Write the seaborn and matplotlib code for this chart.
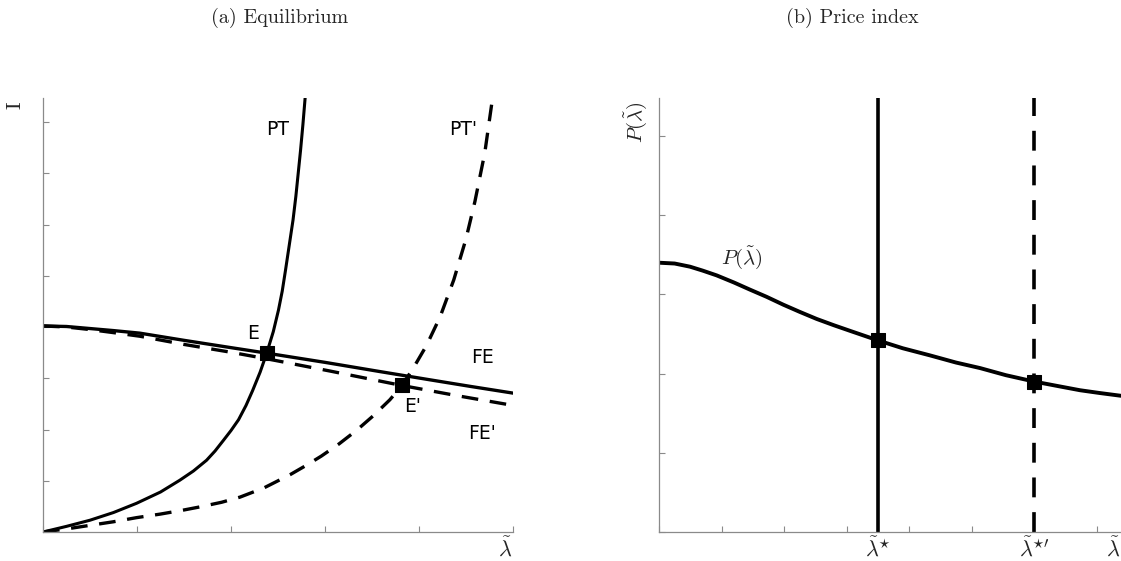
import numpy as np
import pandas as pd
import seaborn as sns
from matplotlib import pyplot as plt
import matplotlib.transforms as mtransforms

# --- panel (a) data ---
fe_x = [0.0, 0.05, 0.1, 0.15, 0.206, 0.30, 0.398, 0.476, 0.60, 0.717, 0.823, 0.91, 1.0]
fe_y = [4.02, 4.01, 3.97, 3.93, 3.88, 3.74, 3.60, 3.49, 3.31, 3.13, 2.97, 2.84, 2.71]

fe2_x = [0.0, 0.05, 0.1, 0.15, 0.206, 0.30, 0.398, 0.476, 0.611, 0.763, 0.881, 1.0]
fe2_y = [4.02, 4.00, 3.95, 3.89, 3.82, 3.66, 3.51, 3.38, 3.14, 2.86, 2.66, 2.47]

pt_x = [0.0, 0.05, 0.1, 0.15, 0.199, 0.25, 0.291, 0.32, 0.348, 0.366, 0.384, 0.40,
        0.416, 0.432, 0.446, 0.462, 0.476, 0.49, 0.501, 0.509, 0.516, 0.524,
        0.532, 0.538, 0.543, 0.548, 0.553, 0.558]
pt_y = [0.0, 0.11, 0.23, 0.38, 0.56, 0.78, 1.01, 1.19, 1.40, 1.58, 1.79, 1.98,
        2.19, 2.47, 2.76, 3.12, 3.49, 3.91, 4.33, 4.70, 5.11, 5.60,
        6.09, 6.55, 7.0, 7.45, 7.95, 8.5]

pt2_x = [0.0, 0.05, 0.1, 0.15, 0.199, 0.25, 0.30, 0.334, 0.38, 0.419, 0.47, 0.526,
         0.56, 0.592, 0.63, 0.668, 0.703, 0.738, 0.763, 0.788, 0.816, 0.845,
         0.874, 0.90, 0.919, 0.94, 0.957]
pt2_y = [0.0, 0.06, 0.13, 0.20, 0.28, 0.35, 0.43, 0.49, 0.58, 0.68, 0.86, 1.12,
         1.30, 1.48, 1.72, 1.99, 2.27, 2.58, 2.85, 3.20, 3.64, 4.20,
         4.92, 5.72, 6.45, 7.40, 8.50]

eq_x = [0.476, 0.763]
eq_y = [3.49, 2.86]

# --- panel (b) data ---
p_x = [0.0, 0.25, 0.496, 0.7, 0.923, 1.2, 1.456, 1.72, 1.989, 2.25, 2.523, 2.8,
       3.056, 3.5, 3.9, 4.336, 4.75, 5.136, 5.55, 6.0, 6.4, 6.736, 7.05, 7.39]
p_y = [3.40, 3.39, 3.35, 3.30, 3.24, 3.15, 3.06, 2.97, 2.87, 2.78, 2.69, 2.61,
       2.54, 2.42, 2.32, 2.23, 2.14, 2.07, 1.98, 1.90, 1.84, 1.79, 1.755, 1.72]
lam_star = [3.5, 6.0]
p_star = [2.42, 1.90]

plt.rcParams['mathtext.fontset'] = 'cm'
sns.set_style("ticks")
plt.rcParams['font.family'] = ['DejaVu Sans']

fig = plt.figure(figsize=(11.21, 5.61), dpi=100)
ax1 = fig.add_axes([43/1121, 1-532/561, 470/1121, 434/561])
ax2 = fig.add_axes([659/1121, 1-532/561, 462/1121, 434/561])

gray = '#8a8a8a'
for ax in (ax1, ax2):
    for s in ['top', 'right']:
        ax.spines[s].set_visible(False)
    for s in ['left', 'bottom']:
        ax.spines[s].set_color(gray)
        ax.spines[s].set_linewidth(0.9)
    ax.tick_params(direction='in', length=4, width=0.8, color=gray,
                   labelbottom=False, labelleft=False)

# (a) Equilibrium
lw = 2.4
sns.lineplot(x=fe_x, y=fe_y, ax=ax1, color='black', linewidth=lw, sort=False, estimator=None)
sns.lineplot(x=fe2_x, y=fe2_y, ax=ax1, color='black', linewidth=lw, sort=False, estimator=None)
ax1.lines[-1].set_dashes([5, 3.5])
sns.lineplot(x=pt_x, y=pt_y, ax=ax1, color='black', linewidth=2.2, sort=False, estimator=None)
sns.lineplot(x=pt2_x, y=pt2_y, ax=ax1, color='black', linewidth=lw, sort=False, estimator=None)
ax1.lines[-1].set_dashes([5, 3.5])
sns.scatterplot(x=eq_x, y=eq_y, ax=ax1, marker='s', s=95, color='black',
                edgecolor='black', zorder=5, clip_on=False)
ax1.set_xlim(0, 1.0)
ax1.set_ylim(0, 434/51.25)
ax1.set_xticks(np.arange(0, 1.01, 0.2))
ax1.set_yticks(np.arange(0, 9, 1))

lab = dict(fontsize=13.5, color='black', family='DejaVu Sans', ha='center', va='center')
ax1.text(0.50, 7.85, 'PT', **lab)
ax1.text(0.894, 7.85, "PT'", **lab)
ax1.text(0.448, 3.88, 'E', **lab)
ax1.text(0.935, 3.40, 'FE', **lab)
ax1.text(0.787, 2.45, "E'", **lab)
ax1.text(0.935, 1.93, "FE'", **lab)

fig.text(16/1121, 1-105/561, 'I', family='cmr10', fontsize=15, rotation=90,
         ha='center', va='center')
ax1.text(0.983, -0.01, r'$\tilde{\lambda}$', transform=ax1.transAxes,
         ha='center', va='top', fontsize=16)

# (b) Price index
sns.lineplot(x=p_x, y=p_y, ax=ax2, color='black', linewidth=2.8, sort=False, estimator=None)
ax2.axvline(lam_star[0], color='black', linewidth=2.6)
ax2.axvline(lam_star[1], color='black', linewidth=2.6, dashes=[5.5, 4.1])
sns.scatterplot(x=lam_star, y=p_star, ax=ax2, marker='s', s=90, color='black',
                edgecolor='black', zorder=5)
ax2.set_xlim(0, 462/62.5)
ax2.set_ylim(0, 434/79.2)
ax2.set_xticks(np.arange(0, 8, 1))
ax2.set_yticks(np.arange(0, 6, 1))
ax2.text(1.32, 3.46, r'$P(\tilde{\lambda})$', ha='center', va='center', fontsize=15)
fig.text(636/1121, 1-122/561, r'$P(\tilde{\lambda})$', fontsize=15, rotation=90,
         ha='center', va='center')

trans = mtransforms.blended_transform_factory(ax2.transData, ax2.transAxes)
ax2.text(lam_star[0], -0.01, r'$\tilde{\lambda}^{\star}$', transform=trans,
         ha='center', va='top', fontsize=16)
ax2.text(lam_star[1], -0.01, r"$\tilde{\lambda}^{\star\prime}$", transform=trans,
         ha='center', va='top', fontsize=16)
ax2.text(0.983, -0.01, r'$\tilde{\lambda}$', transform=ax2.transAxes,
         ha='center', va='top', fontsize=16)

fig.text(280/1121, 1-18/561, '(a) Equilibrium', family='cmr10', fontsize=14.5,
         ha='center', va='center')
fig.text(852/1121, 1-18/561, '(b) Price index', family='cmr10', fontsize=14.5,
         ha='center', va='center')

fig.savefig('out.png', dpi=100)
